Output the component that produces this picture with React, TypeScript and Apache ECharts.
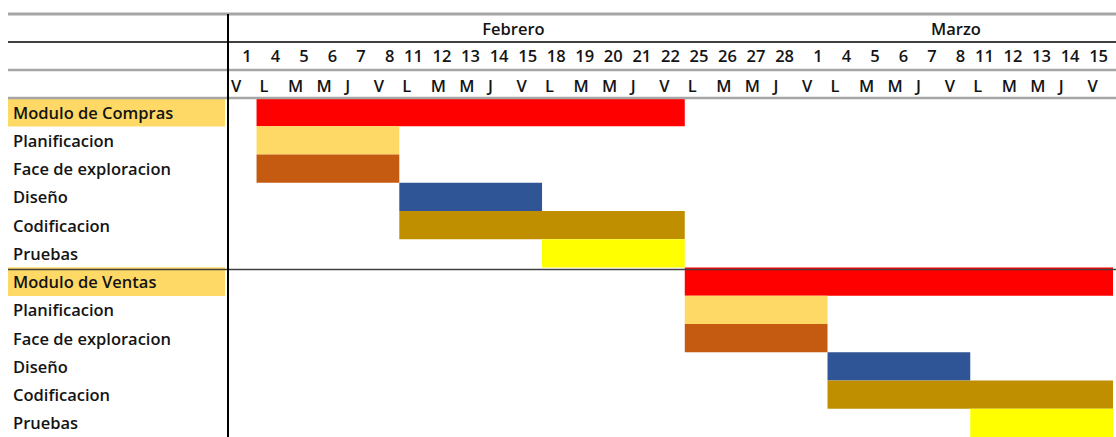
import React, { useEffect, useRef } from "react";
import * as echarts from "echarts";

// ---- data ----
const meses = ["Febrero", "Marzo"];
const diasPorMes = [20, 11];
const fechas = ["1","4","5","6","7","8","11","12","13","14","15","18","19","20","21","22","25","26","27","28","1","4","5","6","7","8","11","12","13","14","15"];
const dias = ["V","L","M","M","J","V","L","M","M","J","V","L","M","M","J","V","L","M","M","J","V","L","M","M","J","V","L","M","M","J","V"];
const tareas = ["Modulo de Compras","Planificacion","Face de exploracion","Diseño","Codificacion","Pruebas","Modulo de Ventas","Planificacion","Face de exploracion","Diseño","Codificacion","Pruebas"];
// start column (inclusive) and end column (exclusive), in date-column indices
const inicio = [1, 1, 1, 6, 6, 11, 16, 16, 16, 21, 21, 26];
const fin = [16, 6, 6, 11, 16, 16, 31, 21, 21, 26, 31, 31];

// ---- styles ----
const FONT = "Open Sans";
const FS = 16.5;
const FW = 600;
const TEXT = "#141414";
const phaseColors: Record<string, string> = {
  "Modulo": "#FF0000",
  "Planificacion": "#FFD966",
  "Face de exploracion": "#C55A11",
  "Diseño": "#2F5597",
  "Codificacion": "#BF8F00",
  "Pruebas": "#FFFF00",
};
const colorOf = (t: string) => (t.startsWith("Modulo") ? phaseColors["Modulo"] : phaseColors[t]);

const LEFT = 228;
const TOP = 98;
const ROWH = 28.6;
const HDR = 28;

export default function App() {
  const ref = useRef<HTMLDivElement>(null);
  useEffect(() => {
    if (!ref.current) return;
    const chart = echarts.init(ref.current, undefined, { renderer: "svg" });
    const nCols = fechas.length;
    const colW = (1116 - LEFT) / nCols;

    // month centres
    const monthCenters: { c: number; name: string }[] = [];
    let acc = 0;
    meses.forEach((m, i) => {
      monthCenters.push({ c: acc + diasPorMes[i] / 2, name: m });
      acc += diasPorMes[i];
    });

    const data = tareas.map((t, i) => ({
      value: [i, inicio[i], fin[i]],
      itemStyle: { color: colorOf(t) },
    }));

    const hLine = (y: number, stroke: string, w: number) => ({
      type: "line",
      z: 100,
      shape: { x1: 8, y1: y, x2: 1116, y2: y },
      style: { stroke, lineWidth: w },
    });

    const txt = { fontSize: FS, fontWeight: FW, color: TEXT, fontFamily: FONT };

    chart.setOption({
      animation: false,
      textStyle: { fontFamily: FONT },
      grid: { left: LEFT, right: 0, top: TOP, height: ROWH * tareas.length },
      xAxis: [
        { type: "value", min: 0, max: nCols, show: false, splitLine: { show: false } },
        {
          type: "category",
          data: fechas,
          position: "top",
          offset: HDR,
          axisLine: { show: false },
          axisTick: { show: false },
          splitLine: { show: false },
          axisLabel: {
            interval: 0,
            margin: 6,
            formatter: (v: string) => `{a|${v}}`,
            rich: { a: { width: colW - 10, align: "right", ...txt } },
          },
        },
        {
          type: "category",
          data: dias,
          position: "top",
          offset: 0,
          axisLine: { show: false },
          axisTick: { show: false },
          splitLine: { show: false },
          axisLabel: {
            interval: 0,
            margin: 4,
            formatter: (v: string) => `{a|${v}}`,
            rich: { a: { width: colW - 6, align: "left", ...txt } },
          },
        },
        {
          type: "value",
          min: 0,
          max: nCols,
          interval: 0.5,
          position: "top",
          offset: HDR * 2,
          axisLine: { show: false },
          axisTick: { show: false },
          splitLine: { show: false },
          axisLabel: {
            margin: 5,
            ...txt,
            showMinLabel: true,
            showMaxLabel: true,
            formatter: (v: number) => {
              const m = monthCenters.find((mc) => Math.abs(mc.c - v) < 1e-6);
              return m ? m.name : "";
            },
          },
        },
      ],
      yAxis: {
        type: "category",
        data: tareas,
        inverse: true,
        axisLine: { show: false },
        axisTick: { show: false },
        splitLine: { show: false },
        axisLabel: {
          interval: 0,
          margin: LEFT - 8,
          align: "left",
          formatter: (v: string) => (v.startsWith("Modulo") ? `{mod|${v}}` : `{t|${v}}`),
          rich: {
            mod: {
              backgroundColor: "#FFD966",
              width: LEFT - 8 - 6 - 2,
              height: ROWH,
              lineHeight: ROWH,
              padding: [0, 0, 0, 5],
              ...txt,
            },
            t: { padding: [0, 0, 0, 5], ...txt },
          },
        },
      },
      series: [
        {
          type: "custom",
          xAxisIndex: 0,
          yAxisIndex: 0,
          encode: { x: [1, 2], y: 0 },
          renderItem: (params: any, api: any) => {
            const row = api.value(0);
            const s = api.coord([api.value(1), row]);
            const e = api.coord([api.value(2), row]);
            const h = api.size([0, 1])[1];
            return {
              type: "rect",
              shape: { x: s[0], y: s[1] - h / 2, width: e[0] - s[0], height: h },
              style: { fill: api.visual("color") },
            };
          },
          data,
        },
      ],
      graphic: [
        hLine(TOP - 3 * HDR, "#A6A6A6", 3),
        hLine(TOP - 2 * HDR, "#000000", 1.5),
        hLine(TOP - HDR, "#A6A6A6", 2.5),
        hLine(TOP, "#A6A6A6", 2.5),
        hLine(TOP + ROWH * 6, "#404040", 1.5),
        {
          type: "line",
          z: 101,
          shape: { x1: LEFT, y1: TOP - 3 * HDR, x2: LEFT, y2: 437 },
          style: { stroke: "#000000", lineWidth: 2 },
        },
      ],
    });
    return () => chart.dispose();
  }, []);
  return (
    <div
      ref={ref}
      style={{ position: "absolute", left: 0, top: 0, width: 1116, height: 437, background: "#ffffff" }}
    />
  );
}
